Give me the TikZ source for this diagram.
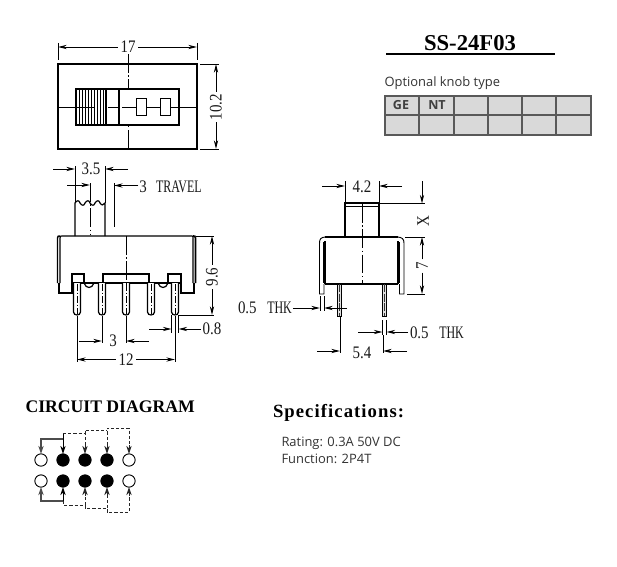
\documentclass[tikz,border=0pt]{standalone}
\usepackage{fontspec}
\setmainfont{Liberation Serif}
\newfontfamily\dimdig[FakeStretch=0.85]{Liberation Serif}
\newfontfamily\dimnar[FakeStretch=0.68]{Liberation Serif}
\newfontfamily\uisans{Open Sans}
\usetikzlibrary{arrows.meta}
\tikzset{
  every node/.style={inner sep=0pt,outer sep=0pt},
  part/.style={line width=0.9pt,black},
  thin part/.style={line width=0.7pt,black},
  dim/.style={line width=0.65pt,black,-{Stealth[length=6.5pt,width=3.2pt]}},
  ext/.style={line width=0.6pt,black},
  centre/.style={line width=0.55pt,black,dash pattern=on 14pt off 2pt on 1pt off 2pt},
  dimtext/.style={font=\dimdig\fontsize{13.2}{14}\selectfont,text=black!90},
  dimword/.style={font=\dimnar\fontsize{13.2}{14}\selectfont,text=black!90},
  heading/.style={font=\bfseries\fontsize{13.25}{15}\selectfont,text=black},
  sans/.style={font=\uisans\fontsize{9.7}{11}\selectfont,text=black!80,anchor=west},
  cellfont/.style={font=\uisans\bfseries\fontsize{9.4}{11}\selectfont,text=black!75},
  celline/.style={line width=0.8pt,black!65},
  solidflow/.style={line width=0.9pt,black!70},
  dashflow/.style={line width=0.7pt,black!85,dash pattern=on 2.4pt off 1.5pt},
  tip/.style={-{Stealth[length=6pt,width=4pt]}},
  open/.style={circle,draw=black,line width=0.7pt,fill=white,minimum size=9.2pt},
  shut/.style={circle,draw=black,line width=0.7pt,fill=black,minimum size=9.2pt},
}
\begin{document}
\begin{tikzpicture}[x=0.75pt,y=-0.75pt]
\useasboundingbox[fill=white] (0,0) rectangle (617,567);

% ---------- top view
\draw[part] (58,64) rectangle (197,149);
\draw[centre] (128,54) -- (128,149);
\draw[ext] (58,107) -- (197,107);
\draw[part,fill=white] (76,89) rectangle (179,125);
\draw[ext] (76,107) -- (94,107) (108,107) -- (118,107) (122,107) -- (179,107);
\foreach \hx in {79,82,85,88,91,94,97,100,103}
  \draw[line width=0.6pt] (\hx,89) -- (\hx,125);
\draw[part] (106,89) -- (106,125) (119,89) -- (119,125);
\draw[thin part,fill=white] (136,98) rectangle (146,115);
\draw[thin part,fill=white] (160,98) rectangle (170,115);
\draw[ext] (58,43) -- (58,60) (197,43) -- (197,60);
\node[dimtext] (dimA) at (128,47) {17};
\draw[dim] (dimA.west) ++(-3,0) -- (58,47);
\draw[dim] (dimA.east) ++(3,0) -- (197,47);
\draw[ext] (200,64) -- (219,64) (200,149) -- (219,149);
\node[dimtext,rotate=90] (dimB) at (216,107) {10.2};
\draw[dim] (dimB.east) ++(0,-2) -- (216,64);
\draw[dim] (dimB.west) ++(0,2) -- (216,149);

% ---------- SS-24F03 title and knob table
\node[font=\bfseries\fontsize{17}{18}\selectfont,text=black] (model) at (470,43) {SS-24F03};
\draw[line width=1.5pt] (386,54) -- (555,54);
\node[sans] (knob) at (384.5,83.5) {Optional knob type};
\fill[black!15] (385,96) rectangle (591,135);
\draw[celline] (385,96) rectangle (591,135) (385,115) -- (591,115);
\foreach \cx in {419,454,488,522,556} \draw[celline] (\cx,96) -- (\cx,135);
\node[cellfont] (ge) at (401,105.5) {GE};
\node[cellfont] (nt) at (437,105.5) {NT};

% ---------- front view
\draw[part] (75,236) -- (75,203)
  .. controls (77,200) and (79,200) .. (80,203)
  .. controls (82,206) and (84,206) .. (85,203)
  .. controls (87,200) and (89,200) .. (90,203)
  .. controls (92,206) and (94,206) .. (95,203)
  .. controls (97,200) and (99,200) .. (100,203)
  .. controls (102,206) and (103,205) .. (105,203) -- (105,236);
\draw[centre] (90,183) -- (90,235);
\draw[ext] (75,166) -- (75,203) (105,166) -- (105,203);
\draw[ext] (114,183) -- (114,227);
\node[dimtext] (dimC) at (91,169) {3.5};
\draw[dim] (53,169) -- (75,169);
\draw[dim] (128,169) -- (105,169);
\draw[dim] (67,185) -- (90,185);
\node[dimtext] (travelnum) at (143,187) {3};
\node[dimword,anchor=west] (travel) at (156,187) {TRAVEL};
\draw[dim] (travelnum.west) ++(-1,-1.5) -- (114,185.5);

\draw[part] (60,283) -- (60,238) .. controls (60,236) and (61,236) .. (62,236) -- (192,236) .. controls (193,236) and (193,237) .. (193,238) -- (193,283);
\draw[line width=1.1pt] (57.5,283) -- (57.5,238) .. controls (57.5,236) and (58.5,236) .. (60,236);
\draw[line width=1.3pt] (195.5,283) -- (195.5,238) .. controls (195.5,236) and (194.5,236) .. (193,236);
\draw[part] (59,283) -- (59,293) -- (72,293) -- (72,274) -- (84,274) -- (84,283) -- (72,283);
\draw[part] (194,283) -- (194,293) -- (181,293) -- (181,274) -- (168,274) -- (168,283) -- (181,283);
\draw[part] (84,283)  .. controls (86,289) and (92,289) .. (94,283);
\draw[part] (158,283) .. controls (160,289) and (166,289) .. (168,283);
\draw[part] (84,283) -- (168,283);
\draw[part] (103,283) -- (103,274) -- (149,274) -- (149,283);
\foreach \px in {77,102,126,151,175}{
  \draw[part,fill=white] (\px-3.5,283) -- (\px-3.5,312) .. controls (\px-3.5,316) and (\px+3.5,316) .. (\px+3.5,312) -- (\px+3.5,283);
  \draw[line width=0.4pt,dash pattern=on 5pt off 1.5pt on 1pt off 1.5pt] (\px,284) -- (\px,314);
}
\draw[centre] (126,236) -- (126,283);

\draw[ext] (196,236) -- (214,236) (178,315) -- (214,315);
\node[dimtext,rotate=90] (dimD) at (212,277) {9.6};
\draw[dim] (dimD.east) ++(0,-3) -- (212,236);
\draw[dim] (dimD.west) ++(0,3) -- (212,315);
\draw[ext] (77,316) -- (77,362) (175,316) -- (175,362) (102,316) -- (102,343) (126,316) -- (126,343);
\node[dimtext] (dimE) at (113,341) {3};
\draw[dim] (79,341) -- (102,341);
\draw[dim] (149,341) -- (126,341);
\node[dimtext] (dimF) at (126,359.5) {12};
\draw[dim] (dimF.west) ++(-3,0) -- (77,359.5);
\draw[dim] (dimF.east) ++(3,0) -- (175,359.5);
\draw[ext] (171.5,315) -- (171.5,333) (178.5,315) -- (178.5,333);
\node[dimtext] (dimG) at (212,329) {0.8};
\draw[dim] (149,329) -- (171.5,329);
\draw[dim] (dimG.west) ++(-2,0) -- (178.5,329);

% ---------- side view
\draw[part] (345,237) -- (345,203) -- (379,203) -- (379,237);
\draw[thin part] (345,206.5) -- (379,206.5);
\draw[centre] (362,204) -- (362,284);
\draw[part] (325,237) -- (398,237);
\draw[part] (325,284) -- (398,284);
\draw[part] (325,284) -- (325,241);
\draw[part] (398,284) -- (398,241);
\draw[line width=1.4pt] (324,242) -- (324,283) (399,242) -- (399,283);
\draw[thin part] (326,237) .. controls (321,237) and (319.5,239) .. (319.5,243) -- (319.5,294) -- (324,294) -- (324,284);
\draw[thin part] (397,237) .. controls (402,237) and (404,239) .. (404,243) -- (404,294) -- (399.5,294) -- (399.5,284);
\foreach \qx/\qw in {339.5/2.2,384.5/2.3}{
  \draw[thin part,fill=black!12] (\qx-\qw,284) rectangle (\qx+\qw,316);
  \draw[line width=0.9pt,black!80,dash pattern=on 6pt off 1.2pt] (\qx,284) -- (\qx,316);
}
\draw[ext] (345,181) -- (345,203) (379,181) -- (379,203);
\node[dimtext] (dimH) at (362,187) {4.2};
\draw[dim] (322,186) -- (345,186);
\draw[dim] (402,186) -- (379,186);
\draw[ext] (379,203.5) -- (425,203.5) (405,237) -- (425,237) (407,294) -- (425,294);
\draw[dim] (422,181) -- (422,203.5);
\node[dimtext,rotate=90] (dimX) at (423,221) {X};
\node[dimtext,rotate=90] (dimI) at (422,266) {7};
\draw[dim] (dimI.east) ++(0,-3) -- (422,237);
\draw[dim] (dimI.west) ++(0,3) -- (422,294);
\draw[ext] (320,296) -- (320,311) (324,296) -- (324,311);
\node[dimword,anchor=west] (thkA) at (238,308) {{\dimdig 0.5}\hspace{0.6em}THK};
\draw[dim] (thkA.east) ++(1,0) -- (320,308);
\draw[dim] (347,308) -- (324,308);
\draw[ext] (382.5,320) -- (382.5,335) (386.5,320) -- (386.5,335);
\node[dimword,anchor=west] (thkB) at (410,332.5) {{\dimdig 0.5}\hspace{0.6em}THK};
\draw[dim] (358,332) -- (382.5,332);
\draw[dim] (thkB.west) ++(-2,-0.5) -- (386.5,332);
\draw[ext] (340,316) -- (340,353) (383,335) -- (383,353);
\node[dimtext] (dimJ) at (362,353) {5.4};
\draw[dim] (317,351) -- (340,351);
\draw[dim] (407,351) -- (383,351);

% ---------- circuit diagram
\node[heading,anchor=west] (circuit) at (25.5,407) {CIRCUIT DIAGRAM};
\node[open] (ta) at (41,460) {};
\node[shut] (tb) at (63,460) {};
\node[shut] (tc) at (85,460) {};
\node[shut] (td) at (107,460) {};
\node[open] (te) at (129,460) {};
\node[open] (ba) at (41,481) {};
\node[shut] (bb) at (63,481) {};
\node[shut] (bc) at (85,481) {};
\node[shut] (bd) at (107,481) {};
\node[open] (be) at (129,481) {};
\coordinate (jt) at (63,439);
\coordinate (jb) at (63,501);
\draw[solidflow,tip] (jt) -| (ta);
\draw[solidflow,tip] (jb) -| (ba);
\draw[line width=0.7pt,tip] (63,433) -- (tb);
\draw[line width=0.7pt,tip] (jb) -- (bb);
\draw[dashflow] (63,433) -- (85,433);
\draw[dashflow,tip,solid] (85,445) -- (tc);
\draw[dashflow] (85,445) -- (85,430) -- (107,430);
\draw[dashflow,tip,solid] (107,445) -- (td);
\draw[dashflow] (107,445) -- (107,428) -- (129,428) -- (129,445);
\draw[dashflow,tip,solid] (129,445) -- (te);
\draw[dashflow] (63,501) -- (63,505) -- (85,505) -- (85,508) -- (107,508) -- (107,512) -- (129,512) -- (129,496);
\draw[dashflow] (85,505) -- (85,496) (107,508) -- (107,496);
\draw[dashflow,tip,solid] (85,496) -- (bc);
\draw[dashflow,tip,solid] (107,496) -- (bd);
\draw[dashflow,tip,solid] (129,496) -- (be);

% ---------- specifications
\node[font=\bfseries\fontsize{14}{16}\selectfont,text=black,anchor=west] (specs) at (273,412.5) {S\kern0.8pt p\kern0.8pt e\kern0.8pt c\kern0.8pt i\kern0.8pt f\kern0.8pt i\kern0.8pt c\kern0.8pt a\kern0.8pt t\kern0.8pt i\kern0.8pt o\kern0.8pt n\kern0.8pt s\kern0.8pt :};
\node[sans] (rating) at (281.5,443) {Rating: 0.3A 50V DC};
\node[sans] (func) at (281.5,459) {Function: 2P4T};
\end{tikzpicture}
\end{document}
